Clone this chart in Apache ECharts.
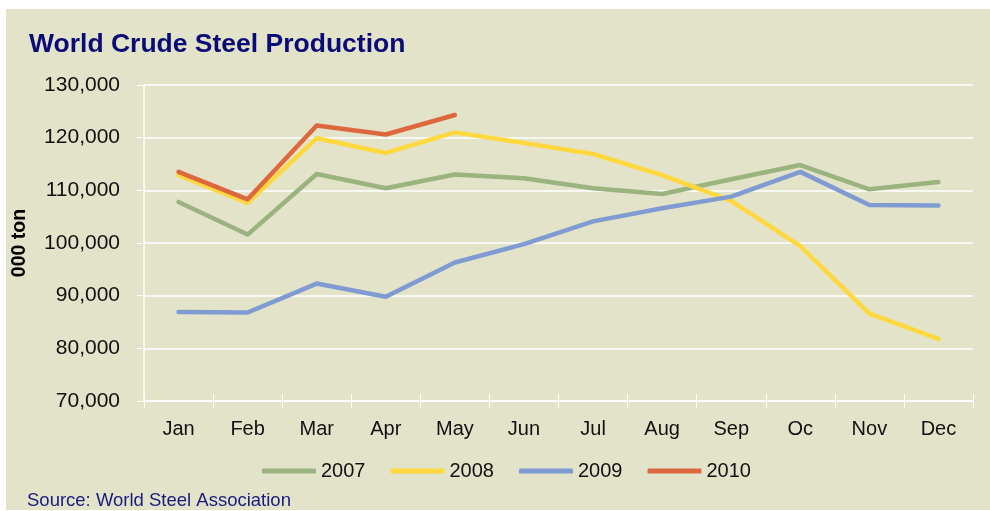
<!DOCTYPE html>
<html>
<head>
<meta charset="utf-8">
<script src="https://cdn.jsdelivr.net/npm/echarts@6/dist/echarts.min.js"></script>
<style>
html,body{margin:0;padding:0;background:#ffffff;}
#chart{width:990px;height:511px;}
</style>
</head>
<body>
<div id="chart"></div>
<script>
var months = ['Jan','Feb','Mar','Apr','May','Jun','Jul','Aug','Sep','Oc','Nov','Dec'];
var years = ['2007','2008','2009','2010'];
var s2007 = [107800, 101600, 113100, 110400, 113000, 112300, 110400, 109300, 112100, 114800, 110200, 111600];
var s2008 = [112900, 107600, 119900, 117100, 121000, 119000, 116900, 112900, 108000, 99400, 86600, 81800];
var s2009 = [86900, 86800, 92300, 89800, 96300, 99800, 104100, 106600, 108800, 113500, 107200, 107100];
var s2010 = [113500, 108300, 122300, 120600, 124300];
var yTicks = [70000, 130000, 10000];
var colors = ['#9BB37E', '#FFD83F', '#7F9BD2', '#DE683E'];

var FONT = 'Liberation Sans, Arial, sans-serif';
var chart = echarts.init(document.getElementById('chart'), null, {renderer: 'canvas'});
var seriesData = [s2007, s2008, s2009, s2010];
var series = years.map(function (y, i) {
  return {
    name: y,
    type: 'line',
    data: seriesData[i],
    symbol: 'none',
    lineStyle: {width: 4.5, color: colors[i], cap: 'round', join: 'round'},
    itemStyle: {color: colors[i]},
    z: 2 + i
  };
});
chart.setOption({
  animation: false,
  backgroundColor: '#ffffff',
  graphic: [
    {type: 'rect', shape: {x: 6, y: 9, width: 984, height: 501}, style: {fill: '#E3E3CA'}, z: -10, silent: true},
    {type: 'text', left: 27, top: 491, style: {text: 'Source: World Steel Association', fill: '#1A1A80', font: '18.5px ' + FONT}, z: 10}
  ],
  title: {
    text: 'World Crude Steel Production',
    left: 24, top: 26,
    textStyle: {color: '#0A0A78', fontFamily: FONT, fontSize: 26.5, fontWeight: 'bold'}
  },
  legend: {
    data: years,
    left: 262, top: 461,
    padding: 0,
    icon: 'roundRect',
    itemWidth: 54, itemHeight: 5, itemGap: 25,
    textStyle: {color: '#111', fontFamily: FONT, fontSize: 20, padding: [0, 0, 0, 0]}
  },
  grid: {left: 144, right: 17, top: 85, bottom: 110},
  xAxis: [{
    type: 'category',
    data: months,
    boundaryGap: true,
    axisLine: {lineStyle: {color: '#FFFFFF', width: 1.5}},
    axisTick: {show: true, length: 7, lineStyle: {color: '#FFFFFF', width: 1}},
    axisLabel: {color: '#111', fontFamily: FONT, fontSize: 20, margin: 18},
    splitLine: {show: false}
  }, {
    type: 'category',
    data: months,
    position: 'bottom',
    boundaryGap: true,
    axisLine: {show: false},
    axisTick: {show: true, inside: true, length: 7, lineStyle: {color: '#FFFFFF', width: 1}},
    axisLabel: {show: false},
    splitLine: {show: false}
  }],
  yAxis: {
    type: 'value',
    min: yTicks[0], max: yTicks[1], interval: yTicks[2],
    name: '000 ton',
    nameLocation: 'middle',
    nameRotate: 90,
    nameGap: 114,
    nameTextStyle: {color: '#000', fontFamily: FONT, fontSize: 19.5, fontWeight: 'bold'},
    axisLine: {show: true, lineStyle: {color: '#FFFFFF', width: 1.5}},
    axisTick: {show: true, length: 7, lineStyle: {color: '#FFFFFF', width: 1}},
    axisLabel: {color: '#111', fontFamily: FONT, fontSize: 21, margin: 24,
      formatter: function (v) { return v.toLocaleString('en-US'); }},
    splitLine: {show: true, lineStyle: {color: '#FFFFFF', width: 1.5}}
  },
  series: series
});
</script>
</body>
</html>
